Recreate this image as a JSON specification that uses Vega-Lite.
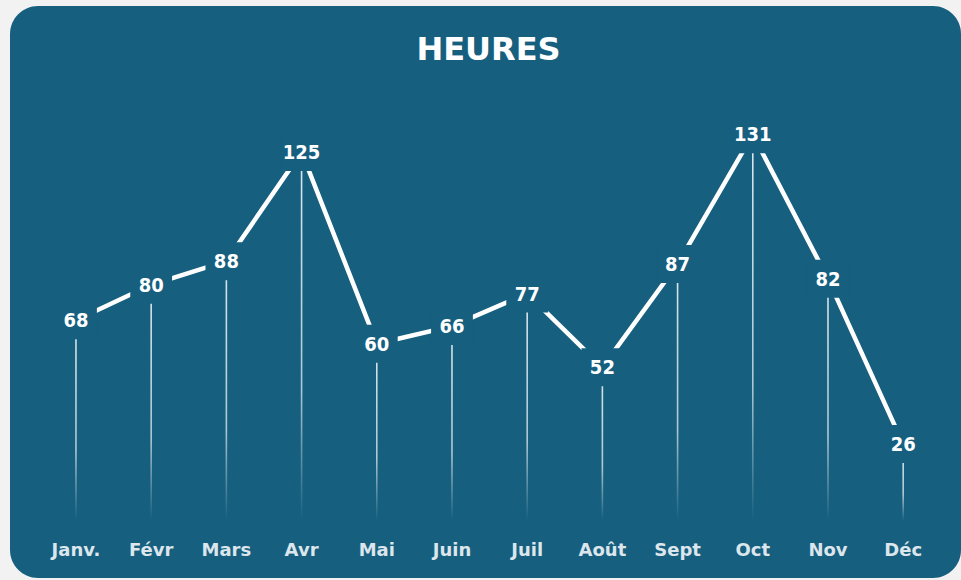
{
  "$schema": "https://vega.github.io/schema/vega-lite/v6.json",
  "width": 951,
  "height": 572,
  "autosize": "none",
  "padding": {"left": 10, "top": 6, "right": 0, "bottom": 2},
  "background": "#f2f2f2",
  "title": {
    "text": "HEURES",
    "anchor": "middle",
    "orient": "top",
    "offset": -86,
    "baseline": "alphabetic",
    "fontSize": 32,
    "font": "DejaVu Sans",
    "fontWeight": "bold",
    "color": "#ffffff",
    "dx": 3
  },
  "config": {
    "view": {"fill": "#165f7f", "cornerRadius": 28, "stroke": null}
  },
  "data": {
    "values": [
      {"mois": "Janv.", "heures": 68},
      {"mois": "Févr", "heures": 80},
      {"mois": "Mars", "heures": 88},
      {"mois": "Avr", "heures": 125},
      {"mois": "Mai", "heures": 60},
      {"mois": "Juin", "heures": 66},
      {"mois": "Juil", "heures": 77},
      {"mois": "Août", "heures": 52},
      {"mois": "Sept", "heures": 87},
      {"mois": "Oct", "heures": 131},
      {"mois": "Nov", "heures": 82},
      {"mois": "Déc", "heures": 26}
    ]
  },
  "encoding": {
    "x": {
      "field": "mois",
      "type": "nominal",
      "sort": null,
      "scale": {"paddingInner": 0, "paddingOuter": 0.323, "align": 0.584},
      "axis": {
        "title": null,
        "orient": "bottom",
        "offset": -28,
        "domain": false,
        "ticks": false,
        "tickSize": 0,
        "labelPadding": 0,
        "labelBaseline": "middle",
        "labelAngle": 0,
        "labelFont": "DejaVu Sans",
        "labelFontWeight": "bold",
        "labelFontSize": 18,
        "labelColor": "#dce6ec",
        "grid": false
      }
    }
  },
  "layer": [
    {
      "mark": {
        "type": "bar",
        "width": 1.6,
        "fill": {
          "gradient": "linear",
          "x1": 0, "y1": 0, "x2": 0, "y2": 1,
          "stops": [
            {"offset": 0, "color": "rgba(255,255,255,0.85)"},
            {"offset": 0.65, "color": "rgba(255,255,255,0.65)"},
            {"offset": 1, "color": "rgba(255,255,255,0)"}
          ]
        }
      },
      "encoding": {
        "y": {"field": "heures", "type": "quantitative", "scale": {"domain": [-19.4, 174.5], "nice": false, "zero": false}, "axis": null},
        "y2": {"datum": 0}
      }
    },
    {
      "mark": {"type": "line", "color": "#ffffff", "strokeWidth": 4.5, "strokeCap": "butt"},
      "encoding": {
        "y": {"field": "heures", "type": "quantitative"}
      }
    },
    {
      "mark": {"type": "point", "shape": "M-1.1,-1H1.1V1H-1.1Z", "size": 1444, "filled": true, "fill": "#165f7f", "opacity": 1, "strokeWidth": 0},
      "encoding": {
        "y": {"field": "heures", "type": "quantitative"}
      }
    },
    {
      "mark": {"type": "text", "font": "DejaVu Sans Condensed", "fontWeight": "bold", "fontSize": 20, "color": "#ffffff", "baseline": "middle", "align": "center", "dy": 1},
      "encoding": {
        "y": {"field": "heures", "type": "quantitative"},
        "text": {"field": "heures", "type": "quantitative"}
      }
    }
  ]
}
